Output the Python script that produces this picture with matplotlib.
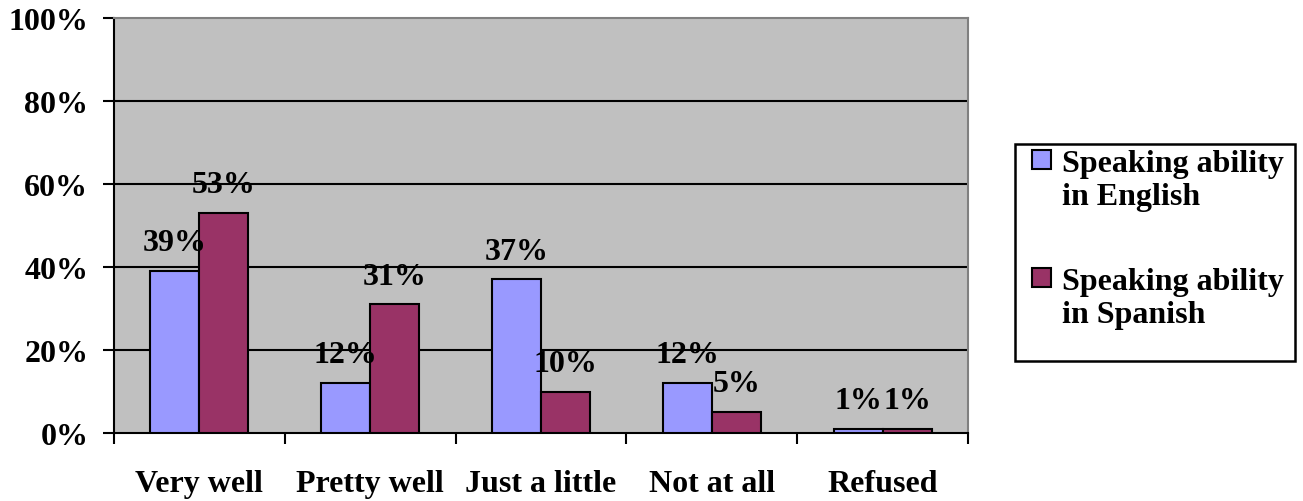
import matplotlib
matplotlib.use("Agg")
import matplotlib.pyplot as plt
from matplotlib.patches import Rectangle
import numpy as np

categories = ["Very well", "Pretty well", "Just a little", "Not at all", "Refused"]
english = [39, 12, 37, 12, 1]
spanish = [53, 31, 10, 5, 1]
series_names = ["Speaking ability\nin English", "Speaking ability\nin Spanish"]
colors = ['#9999FF', '#993366']
yticks = [0, 20, 40, 60, 80, 100]
ytick_labels = ["0%", "20%", "40%", "60%", "80%", "100%"]

plt.rcParams['font.family'] = ['Liberation Serif', 'DejaVu Serif']
plt.rcParams['font.weight'] = 'bold'
FS = 23

W, H = 1303, 502
fig = plt.figure(figsize=(W/100, H/100), dpi=100)
ax = fig.add_axes([114/W, 1 - 434/H, (968 - 114)/W, (434 - 19)/H])
ax.set_facecolor('#C0C0C0')

x = np.arange(len(categories))
w = 0.287
ax.bar(x - w/2, english, w, color=colors[0], edgecolor='black', linewidth=1.5, zorder=3)
ax.bar(x + w/2, spanish, w, color=colors[1], edgecolor='black', linewidth=1.5, zorder=3)

for xs, vals in ((x - w/2, english), (x + w/2, spanish)):
    for xi, v in zip(xs, vals):
        ax.annotate(f"{v}%", (xi, v), xytext=(0, 15), textcoords='offset points',
                    ha='center', va='baseline', fontsize=FS, fontweight='bold', zorder=5)

ax.set_xlim(-0.5, len(categories) - 0.5)
ax.set_ylim(0, 100)
ax.set_yticks(yticks)
ax.set_yticklabels(ytick_labels, fontsize=FS, fontweight='bold')
for yv in yticks[1:-1]:
    ax.axhline(yv, color='black', linewidth=1.5, zorder=2)

ax.set_xticks(np.arange(-0.5, len(categories), 1.0))
ax.set_xticklabels([])
ax.set_xticks(x, minor=True)
ax.set_xticklabels(categories, minor=True, fontsize=FS, fontweight='bold')
ax.tick_params(axis='x', which='minor', length=0, pad=26)
ax.tick_params(axis='x', which='major', length=8, width=1.5, direction='out')
ax.tick_params(axis='y', length=8, width=1.5, direction='out', pad=10.5)

for s in ('left', 'bottom'):
    ax.spines[s].set_linewidth(1.5)
    ax.spines[s].set_color('black')
for s in ('top', 'right'):
    ax.spines[s].set_linewidth(1.5)
    ax.spines[s].set_color('#808080')

# legend drawn manually (pixel layout of the reference)
def px(xp, yp):
    return xp / W, 1 - yp / H

lx0, ly0 = px(1015, 362)
lx1, ly1 = px(1295, 145)
fig.patches.append(Rectangle((lx0, ly0), lx1 - lx0, ly1 - ly0, transform=fig.transFigure,
                             facecolor='white', edgecolor='black', linewidth=1.8))
for i, (name, col) in enumerate(zip(series_names, colors)):
    top = 151 + i * 118
    sx, sy = px(1032, top + 19)
    fig.patches.append(Rectangle((sx, sy), 19/W, 19/H, transform=fig.transFigure,
                                 facecolor=col, edgecolor='black', linewidth=1.5))
    tx, ty = px(1062, top - 1)
    fig.text(tx, ty, name, ha='left', va='top', fontsize=FS, fontweight='bold',
             linespacing=1.18)

fig.savefig("out.png", dpi=100)
